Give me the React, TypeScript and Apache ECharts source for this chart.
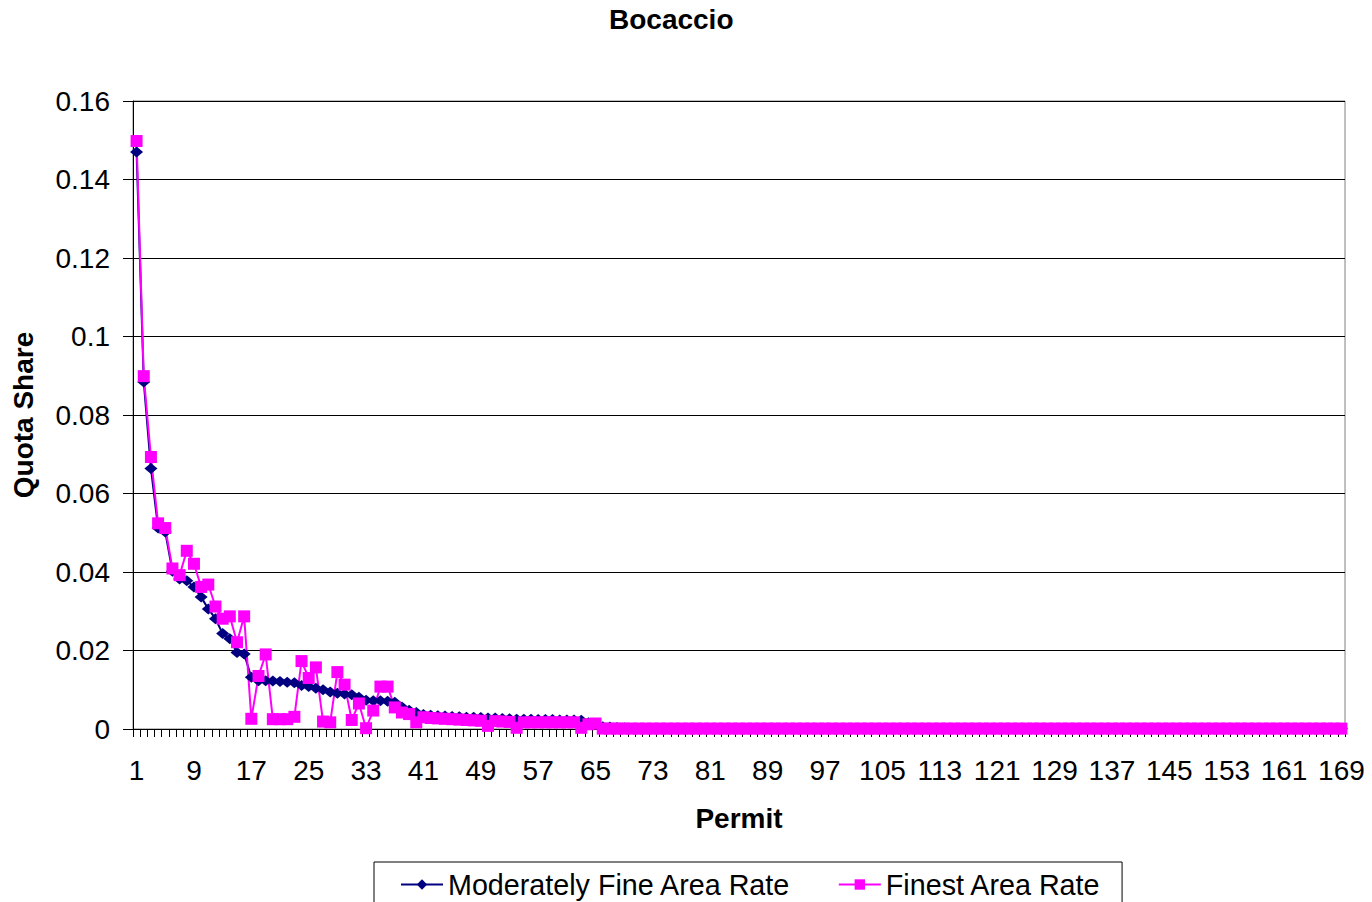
import React, { useEffect, useRef } from "react";
import * as echarts from "echarts";

const TITLE = "Bocaccio";
const X_NAME = "Permit";
const Y_NAME = "Quota Share";
const SERIES_NAMES = ["Moderately Fine Area Rate", "Finest Area Rate"];

const permits: string[] = Array.from({ length: 169 }, (_, i) => String(i + 1));

const moderatelyFine: number[] = [
  0.147, 0.0884, 0.0664, 0.0512, 0.0502, 0.0402, 0.0382, 0.0378, 0.0362, 0.0336,
  0.0306, 0.0281, 0.0243, 0.023, 0.0195, 0.0191, 0.0132, 0.0123, 0.0123, 0.0122,
  0.0121, 0.0119, 0.0118, 0.0111, 0.0108, 0.0104, 0.01, 0.0094, 0.0091, 0.0089,
  0.0087, 0.0081, 0.0073, 0.0072, 0.0072, 0.0071, 0.0068, 0.0056, 0.0048, 0.0042,
  0.0037, 0.0035, 0.0034, 0.0033, 0.0032, 0.0031, 0.003, 0.003, 0.0029, 0.0028,
  0.0028, 0.0027, 0.0026, 0.0025, 0.0025, 0.0025, 0.0024, 0.0024, 0.0024, 0.0023,
  0.0023, 0.0023, 0.0022, 0.0016, 0.0012, 0.0006, 0.0005, 0.0004, 0.0003, 0.0002,
  0.0001, 0.0001, 0.0001, 0.0001, 0.0001, 0.0001, 0.0001, 0.0001, 0.0001, 0.0001, 0.0001,
  0.0001, 0.0001, 0.0001, 0.0001, 0.0001, 0.0001, 0.0001, 0.0001, 0.0001, 0.0001, 0.0001,
  0.0001, 0.0001, 0.0001, 0.0001, 0.0001, 0.0001, 0.0001, 0.0001, 0.0001, 0.0001, 0.0001,
  0.0001, 0.0001, 0.0001, 0.0001, 0.0001, 0.0001, 0.0001, 0.0001, 0.0001, 0.0001, 0.0001,
  0.0001, 0.0001, 0.0001, 0.0001, 0.0001, 0.0001, 0.0001, 0.0001, 0.0001, 0.0001, 0.0001,
  0.0001, 0.0001, 0.0001, 0.0001, 0.0001, 0.0001, 0.0001, 0.0001, 0.0001, 0.0001, 0.0001,
  0.0001, 0.0001, 0.0001, 0.0001, 0.0001, 0.0001, 0.0001, 0.0001, 0.0001, 0.0001, 0.0001,
  0.0001, 0.0001, 0.0001, 0.0001, 0.0001, 0.0001, 0.0001, 0.0001, 0.0001, 0.0001, 0.0001,
  0.0001, 0.0001, 0.0001, 0.0001, 0.0001, 0.0001, 0.0001, 0.0001, 0.0001, 0.0001, 0.0001,
];

const finest: number[] = [
  0.1498, 0.0899, 0.0693, 0.0524, 0.0512, 0.0409, 0.0392, 0.0454, 0.0421, 0.0362,
  0.0368, 0.0312, 0.0281, 0.0287, 0.0221, 0.0287, 0.0026, 0.0135, 0.019, 0.0025,
  0.0025, 0.0025, 0.0031, 0.0173, 0.013, 0.0157, 0.0019, 0.0017, 0.0145, 0.0113,
  0.0023, 0.0065, 0.0002, 0.0047, 0.0108, 0.0108, 0.0055, 0.0042, 0.0038, 0.0017,
  0.003, 0.0028, 0.0027, 0.0026, 0.0025, 0.0024, 0.0023, 0.0022, 0.0021, 0.0008,
  0.002, 0.0019, 0.0018, 0.0003, 0.0017, 0.0017, 0.0017, 0.0017, 0.0017, 0.0017,
  0.0017, 0.0017, 0.0003, 0.0012, 0.0014, 0.0001, 0.0001, 0.0001, 0.0001, 0.0001,
  0.0001, 0.0001, 0.0001, 0.0001, 0.0001, 0.0001, 0.0001, 0.0001, 0.0001, 0.0001, 0.0001,
  0.0001, 0.0001, 0.0001, 0.0001, 0.0001, 0.0001, 0.0001, 0.0001, 0.0001, 0.0001, 0.0001,
  0.0001, 0.0001, 0.0001, 0.0001, 0.0001, 0.0001, 0.0001, 0.0001, 0.0001, 0.0001, 0.0001,
  0.0001, 0.0001, 0.0001, 0.0001, 0.0001, 0.0001, 0.0001, 0.0001, 0.0001, 0.0001, 0.0001,
  0.0001, 0.0001, 0.0001, 0.0001, 0.0001, 0.0001, 0.0001, 0.0001, 0.0001, 0.0001, 0.0001,
  0.0001, 0.0001, 0.0001, 0.0001, 0.0001, 0.0001, 0.0001, 0.0001, 0.0001, 0.0001, 0.0001,
  0.0001, 0.0001, 0.0001, 0.0001, 0.0001, 0.0001, 0.0001, 0.0001, 0.0001, 0.0001, 0.0001,
  0.0001, 0.0001, 0.0001, 0.0001, 0.0001, 0.0001, 0.0001, 0.0001, 0.0001, 0.0001, 0.0001,
  0.0001, 0.0001, 0.0001, 0.0001, 0.0001, 0.0001, 0.0001, 0.0001, 0.0001, 0.0001, 0.0001,
];

const FONT = "'Liberation Sans', Arial, sans-serif";

export default function App() {
  const ref = useRef<HTMLDivElement>(null);

  useEffect(() => {
    document.body.style.margin = "0";
    if (!ref.current) return;
    const chart = echarts.init(ref.current, undefined, { renderer: "svg" });
    chart.setOption({
      animation: false,
      backgroundColor: "#ffffff",
      textStyle: { fontFamily: FONT },
      title: {
        text: TITLE,
        left: 604,
        top: 0,
        textStyle: { fontFamily: FONT, fontSize: 28, fontWeight: "bold", color: "#000" },
      },
      legend: {
        data: SERIES_NAMES,
        left: 374,
        top: 862,
        padding: [8, 21, 8, 26],
        itemGap: 47,
        itemWidth: 42,
        itemHeight: 13,
        borderColor: "#000",
        borderWidth: 1,
        textStyle: { fontFamily: FONT, fontSize: 28.7, color: "#000" },
      },
      grid: {
        left: 133,
        right: 27,
        top: 101,
        bottom: 173,
        show: true,
        borderColor: "#808080",
        borderWidth: 1,
        containLabel: false,
      },
      xAxis: {
        type: "category",
        data: permits,
        boundaryGap: true,
        name: X_NAME,
        nameLocation: "middle",
        nameGap: 75,
        nameTextStyle: { fontFamily: FONT, fontSize: 28, fontWeight: "bold", color: "#000" },
        axisLine: { lineStyle: { color: "#000", width: 1 } },
        axisTick: { show: true, interval: 0, length: 8, lineStyle: { color: "#000" } },
        axisLabel: { interval: 7, margin: 27, fontFamily: FONT, fontSize: 28, color: "#000" },
        splitLine: { show: false },
      },
      yAxis: {
        type: "value",
        min: 0,
        max: 0.16,
        interval: 0.02,
        name: Y_NAME,
        nameLocation: "middle",
        nameGap: 96,
        nameTextStyle: { fontFamily: FONT, fontSize: 28, fontWeight: "bold", color: "#000" },
        axisLine: { show: true, lineStyle: { color: "#000", width: 1 } },
        axisTick: { show: true, length: 10, lineStyle: { color: "#000" } },
        axisLabel: { margin: 23, fontFamily: FONT, fontSize: 28, color: "#000" },
        splitLine: { show: true, lineStyle: { color: "#000", width: 1 } },
      },
      series: [
        {
          name: SERIES_NAMES[0],
          type: "line",
          data: moderatelyFine,
          symbol: "diamond",
          symbolSize: [13, 11],
          showAllSymbol: true,
          itemStyle: { color: "#000080" },
          lineStyle: { color: "#000080", width: 2 },
        },
        {
          name: SERIES_NAMES[1],
          type: "line",
          data: finest,
          symbol: "rect",
          symbolSize: 12,
          showAllSymbol: true,
          itemStyle: { color: "#FF00FF" },
          lineStyle: { color: "#FF00FF", width: 2 },
        },
      ],
    });
    return () => chart.dispose();
  }, []);

  return <div ref={ref} style={{ width: 1372, height: 902 }} />;
}
